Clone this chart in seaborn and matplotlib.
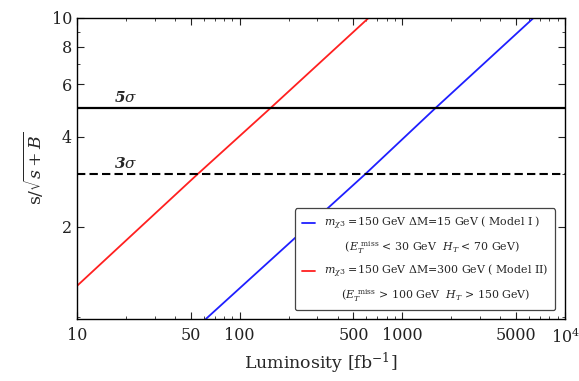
import matplotlib
matplotlib.use("Agg")
import matplotlib.pyplot as plt
import seaborn as sns
import pandas as pd
import numpy as np
from matplotlib.ticker import FixedLocator, LogLocator, NullFormatter, FixedFormatter
from matplotlib.lines import Line2D

# Data (significance vs luminosity, log-log straight lines)
lumi_model1 = [62, 590, 1600, 6400]
sig_model1 = [0.985, 3.0, 5.0, 10.0]
lumi_model2 = [10, 55, 155, 620]
sig_model2 = [1.27, 3.0, 5.0, 10.0]
five_sigma = 5.0
three_sigma = 3.0
x_ticks = [10, 50, 100, 500, 1000, 5000, 10000]
x_tick_labels = ["10", "50", "100", "500", "1000", "5000", r"$10^4$"]
y_ticks = [2, 4, 6, 8, 10]
y_tick_labels = ["2", "4", "6", "8", "10"]
label1a = r"$m_{\chi3}$ =150 GeV $\Delta$M=15 GeV ( Model I )"
label1b = r"      ($E_T^{\ \rm miss}$ < 30 GeV  $H_T$ < 70 GeV)"
label2a = r"$m_{\chi3}$ =150 GeV $\Delta$M=300 GeV ( Model II)"
label2b = r"     ($E_T^{\ \rm miss}$ > 100 GeV  $H_T$ > 150 GeV)"

sns.set_theme(style="ticks")
plt.rcParams["font.family"] = ["DejaVu Serif"]
plt.rcParams["mathtext.fontset"] = "dejavuserif"

fig = plt.figure(figsize=(5.79, 3.81), dpi=100)
ax = fig.add_axes([0.133, 0.163, 0.843, 0.790])

df1 = pd.DataFrame({"L": lumi_model1, "S": sig_model1})
df2 = pd.DataFrame({"L": lumi_model2, "S": sig_model2})
sns.lineplot(data=df1, x="L", y="S", ax=ax, color="#1f1fff", lw=1.3)
sns.lineplot(data=df2, x="L", y="S", ax=ax, color="#ff2020", lw=1.3)
ax.axhline(five_sigma, color="black", lw=1.6)
ax.axhline(three_sigma, color="black", lw=1.5, ls=(0, (4, 2)))

ax.set_xscale("log")
ax.set_yscale("log")
ax.set_xlim(10, 10000)
ax.set_ylim(0.985, 10)

ax.xaxis.set_major_locator(FixedLocator(x_ticks))
ax.xaxis.set_major_formatter(FixedFormatter(x_tick_labels))
ax.xaxis.set_minor_locator(LogLocator(base=10, subs=np.arange(2, 10)))
ax.xaxis.set_minor_formatter(NullFormatter())
ax.yaxis.set_major_locator(FixedLocator(y_ticks))
ax.yaxis.set_major_formatter(FixedFormatter(y_tick_labels))
ax.yaxis.set_minor_locator(LogLocator(base=10, subs=np.arange(1, 10) * 1.0, numticks=20))
ax.yaxis.set_minor_formatter(NullFormatter())

ax.tick_params(which="both", direction="in", top=True, right=True, labelsize=11.5, colors="#222222")
ax.tick_params(which="major", length=5, width=0.8)
ax.tick_params(which="minor", length=2.5, width=0.6)
ax.tick_params(axis="x", which="major", pad=6)
for s in ax.spines.values():
    s.set_linewidth(1.0)
    s.set_color("black")

ax.set_xlabel(r"Luminosity [fb$^{-1}$]", fontsize=12.5, labelpad=3)
ax.set_ylabel(r"s/$\sqrt{s+B}$", fontsize=12.5, labelpad=4)

ax.text(16.8, 5.12, r"5$\sigma$", fontsize=11, fontweight="bold", fontstyle="italic", va="bottom")
ax.text(16.8, 3.07, r"3$\sigma$", fontsize=11, fontweight="bold", fontstyle="italic", va="bottom")

blank = Line2D([], [], color="none")
handles = [Line2D([], [], color="#1f1fff", lw=1.3), blank,
           Line2D([], [], color="#ff2020", lw=1.3), blank]
leg = ax.legend(handles, [label1a, label1b, label2a, label2b], loc="lower right",
                bbox_to_anchor=(0.99, 0.01), fontsize=7.9, frameon=True, fancybox=True,
                handlelength=1.2, handletextpad=0.8, labelspacing=0.62, borderpad=0.6,
                framealpha=1)
leg.get_frame().set_edgecolor("#444444")
leg.get_frame().set_linewidth(0.9)

fig.savefig("out.png", dpi=100)
